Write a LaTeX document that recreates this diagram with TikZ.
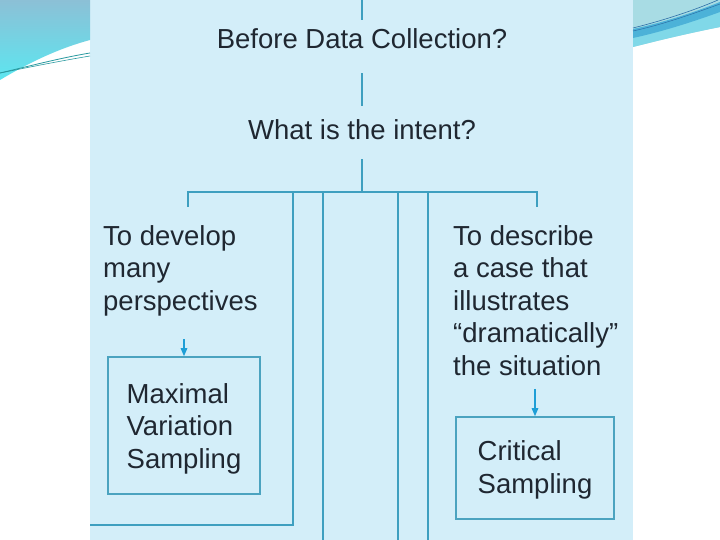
\documentclass[tikz,border=0pt]{standalone}
\usepackage{fontspec}
\setmainfont{Liberation Sans}
\usetikzlibrary{arrows.meta}
\definecolor{panel}{HTML}{D3EEF9}
\definecolor{linec}{HTML}{3E9FC0}
\definecolor{arrc}{HTML}{1E9ED6}
\definecolor{txt}{HTML}{1F2731}
\definecolor{boxc}{HTML}{4BA3C0}
\definecolor{tlA}{HTML}{8CC0D6}
\definecolor{tlB}{HTML}{5CE6F0}
\definecolor{teal1}{HTML}{2A9AA0}
\definecolor{trLight}{HTML}{A8DCE4}
\definecolor{trBlue}{HTML}{4CB2D8}
\definecolor{trCyan}{HTML}{80D8E8}
\definecolor{trLine}{HTML}{2C6FA8}
\tikzset{
  conn/.style={draw=linec, line width=1.4pt},
  arr/.style={draw=arrc, line width=1.3pt, -{Triangle[length=8pt,width=6.5pt]}},
  lbl/.style={text=txt, font=\fontsize{27.5}{32.5}\selectfont, inner sep=0pt, align=left},
  sampbox/.style={lbl, draw=boxc, line width=1.6pt},
}
\begin{document}
\begin{tikzpicture}[x=1pt,y=-1pt]
\useasboundingbox (0,0) rectangle (720,540);
\fill[white] (0,0) rectangle (720,540);
\fill[panel] (90,0) rectangle (633,540);
% top-left decoration
\shade[top color=tlA, bottom color=tlB] (0,0) -- (90,0) -- (90,40) .. controls (60,48) and (30,62) .. (0,80) -- cycle;
\draw[teal1, line width=0.8pt] (0,73) .. controls (30,66) and (60,58) .. (90,53);
\draw[teal1, line width=0.6pt] (0,73) .. controls (30,67) and (60,61) .. (90,56);
% top-right decoration
\fill[trLight] (633,0) -- (720,0) -- (720,27) .. controls (690,33) and (660,40) .. (633,47) -- cycle;
\fill[trCyan] (633,37) .. controls (665,30) and (695,20) .. (720,10) -- (720,27) .. controls (690,33) and (660,40) .. (633,47) -- cycle;
\fill[trBlue] (633,29) .. controls (665,22) and (695,12) .. (720,2) -- (720,12) .. controls (695,21) and (665,31) .. (633,38) -- cycle;
\draw[trLine, line width=0.6pt] (633,28) .. controls (665,20) and (695,10) .. (718,0);
\draw[trLine, line width=0.5pt] (633,31) .. controls (665,24) and (695,13) .. (720,4);
% nodes
\node[lbl, anchor=base] (b1) at (362,49) {Before Data Collection?};
\node[lbl, anchor=base] (b2) at (362,140) {What is the intent?};
\node[lbl, anchor=north west] (l1) at (103,225.3) {To develop\\many\\perspectives};
\node[lbl, anchor=north west] (r1) at (453,225.3) {To describe\\a case that\\illustrates\\“dramatically”\\the situation};
\node[sampbox, minimum width=152pt, minimum height=137pt] (m1) at (184,425.5) {\rule{0pt}{26.7pt}Maximal\\Variation\\Sampling};
\node[sampbox, minimum width=158pt, minimum height=102pt] (c1) at (535,468) {\rule{0pt}{23.5pt}Critical\\Sampling};
% coordinates
\coordinate (top) at (362,0);
\coordinate (split) at (362,192);
\coordinate (jl) at (188,207);
\coordinate (jr) at (537,207);
\coordinate (v1t) at (293,192);
\coordinate (v1b) at (293,525);
\coordinate (v1e) at (90,525);
\coordinate (v2t) at (323,192);
\coordinate (v2b) at (323,540);
\coordinate (v3t) at (398,192);
\coordinate (v3b) at (398,540);
\coordinate (v4t) at (428,192);
\coordinate (v4b) at (428,540);
% connectors
\draw[conn] (top) -- ([yshift=9pt]b1.north);
\draw[conn] ([yshift=-24pt]b1.south) -- ([yshift=14pt]b2.north);
\draw[conn] ([yshift=-19pt]b2.south) -- (split);
\draw[conn] (jl) |- (split) -| (jr);
\draw[conn] (v1t) -- (v1b) -- (v1e);
\draw[conn] (v2t) -- (v2b);
\draw[conn] (v3t) -- (v3b);
\draw[conn] (v4t) -- (v4b);
\draw[arr, shorten <=23pt] (m1.north |- l1.south) -- (m1.north);
\draw[arr, shorten <=13pt] (c1.north |- r1.south) -- (c1.north);
\end{tikzpicture}
\end{document}
